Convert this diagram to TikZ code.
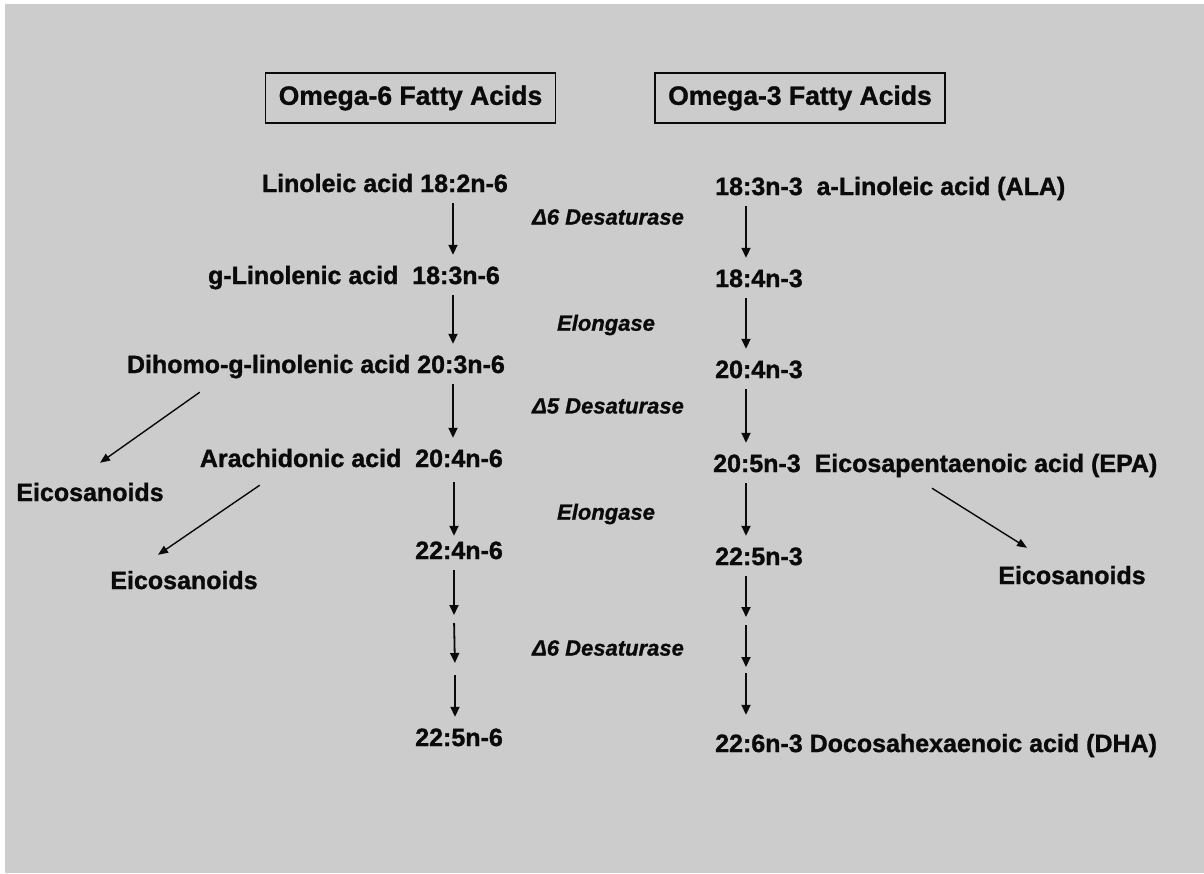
\documentclass[tikz,border=0pt]{standalone}
\usepackage{fontspec}
\setmainfont{Liberation Sans}[BoldFeatures={FakeBold=1.2}, BoldItalicFeatures={FakeBold=1.0}]
\usetikzlibrary{arrows.meta,calc}
\definecolor{bg}{RGB}{204,204,204}
\definecolor{ink}{RGB}{10,10,10}
\begin{document}
\begin{tikzpicture}[x=1pt,y=-1pt,
  every node/.style={text=ink, font=\fontsize{25}{30}\selectfont\bfseries},
  item/.style={inner sep=0pt, text height=29pt, text depth=11pt},
  lab/.style={inner sep=0pt, text height=18pt, text depth=0pt},
  enz/.style={inner sep=0pt, font=\fontsize{22}{26}\selectfont\bfseries\itshape},
  head/.style={draw=ink, line width=1.4pt, minimum width=290pt, minimum height=50pt, inner sep=0pt, font=\fontsize{26.5}{30}\selectfont\bfseries},
  arr/.style={draw=ink, line width=1.8pt, -{Triangle[length=10pt,width=9pt]}},
  diag/.style={draw=ink, line width=1.4pt, -{Triangle[length=10pt,width=8pt]}}
]
\useasboundingbox (0,0) rectangle (1204,873);
\fill[white] (0,0) rectangle (1204,873);
\fill[bg] (5,4) rectangle (1204,873);

% headers
\node[head] (h6) at (410.5,98) {Omega-6 Fatty Acids};
\node[head] (h3) at (800,98) {Omega-3 Fatty Acids};

% omega-6 column
\node[item, anchor=east] (L1) at (508,183) {Linoleic acid 18:2n-6};
\node[item, anchor=east] (L2) at (500,275) {g-Linolenic acid\ \ 18:3n-6};
\node[item, anchor=east] (L3) at (505,364) {Dihomo-g-linolenic acid 20:3n-6};
\node[item, anchor=east] (L4) at (503,458) {Arachidonic acid\ \ 20:4n-6};
\node[item, anchor=east] (L5) at (503,550) {22:4n-6};
\node[item, anchor=east] (L6) at (503,737) {22:5n-6};

% omega-3 column
\node[item, anchor=west] (R1) at (715,186) {18:3n-3\ \ a-Linoleic acid (ALA)};
\node[item, anchor=west] (R2) at (715,278) {18:4n-3};
\node[item, anchor=west] (R3) at (715,369) {20:4n-3};
\node[item, anchor=west] (R4) at (713,463) {20:5n-3\ \ Eicosapentaenoic acid (EPA)};
\node[item, anchor=west] (R5) at (715,556) {22:5n-3};
\node[item, anchor=west] (R6) at (715,743) {22:6n-3 Docosahexaenoic acid (DHA)};

% eicosanoids
\node[lab] (E1) at (90,492) {Eicosanoids};
\node[lab] (E2) at (184,580) {Eicosanoids};
\node[lab] (E3) at (1072,575) {Eicosanoids};

% enzymes
\node[enz] (z1) at (608,217) {Δ6 Desaturase};
\node[enz] (z2) at (606,325) {Elongase};
\node[enz] (z3) at (608,406) {Δ5 Desaturase};
\node[enz] (z4) at (606,514) {Elongase};
\node[enz] (z5) at (608,648) {Δ6 Desaturase};

% columns
\coordinate (cL) at (453,0);
\coordinate (cR) at (746,0);
\coordinate (La) at (454,619);
\coordinate (Lb) at (455,669);
\coordinate (Ra) at (746,621);
\coordinate (Rb) at (746,669);

% omega-6 arrows
\draw[arr] (L1.south -| cL) -- (L2.north -| cL);
\draw[arr] (L2.south -| cL) -- (L3.north -| cL);
\draw[arr] (L3.south -| cL) -- (L4.north -| cL);
\draw[arr] ($(L4.south -| cL)+(1,4)$) -- ($(L5.north -| cL)+(1,6)$);
\draw[arr, shorten >=4pt] ($(L5.south -| cL)+(1,0)$) -- (La);
\draw[arr, shorten <=4pt, shorten >=6pt] (La) -- (Lb);
\draw[arr, shorten <=6pt] (Lb) -- ($(L6.north -| cL)+(2,0)$);

% omega-3 arrows
\draw[arr] (R1.south -| cR) -- (R2.north -| cR);
\draw[arr] (R2.south -| cR) -- (R3.north -| cR);
\draw[arr] (R3.south -| cR) -- (R4.north -| cR);
\draw[arr] (R4.south -| cR) -- (R5.north -| cR);
\draw[arr, shorten >=4pt] (R5.south -| cR) -- (Ra);
\draw[arr, shorten <=4pt, shorten >=2pt] (Ra) -- (Rb);
\draw[arr, shorten <=4pt, shorten >=8pt] (Rb) -- (R6.north -| cR);

% eicosanoid arrows
\draw[diag] ($(L3.south west)+(73,8)$) -- ($(E1.north)+(10,-20)$);
\draw[diag] ($(L4.south west)+(60,7)$) -- ($(E2.north)+(-26,-16)$);
\draw[diag] ($(R4.south west)+(219,5)$) -- ($(E3.north)+(-45,-18)$);
\end{tikzpicture}
\end{document}
